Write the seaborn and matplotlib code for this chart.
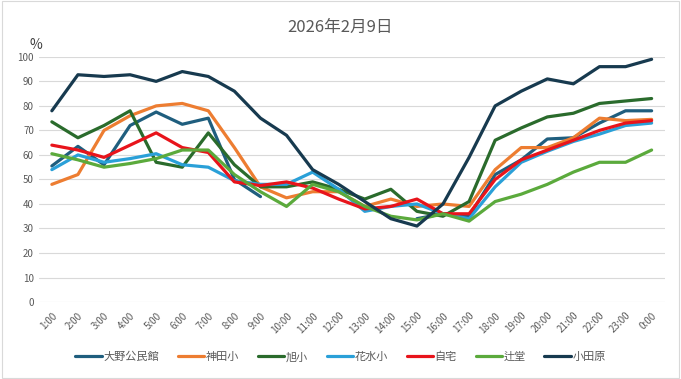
import matplotlib
matplotlib.use("Agg")
import matplotlib.pyplot as plt
import numpy as np
import pandas as pd
import seaborn as sns

hours = ["1:00", "2:00", "3:00", "4:00", "5:00", "6:00", "7:00", "8:00", "9:00", "10:00",
         "11:00", "12:00", "13:00", "14:00", "15:00", "16:00", "17:00", "18:00", "19:00",
         "20:00", "21:00", "22:00", "23:00", "0:00"]

nan = np.nan
ono = [55.5, 63.5, 56, 72, 77.5, 72.5, 75, 50, 43, nan, nan, nan, nan, nan,
       34, 36, 35, 52, 58, 66.5, 67, 73, 78, 78]
kanda = [48, 52, 70, 76, 80, 81, 78, 63, 47, 42.5, 45, 45, 39, 42,
         39, 40, 39, 54, 63, 63, 67, 75, 74, 74.5]
asahi = [73.5, 67, 72, 78, 57, 55, 69, 56, 47, 47, 49, 46, 42, 46,
         37, 35, 41, 66, 71, 75.5, 77, 81, 82, 83]
hanamizu = [54, 60, 57, 58.5, 60.5, 56, 55, 49.5, 48, 48, 53, 46, 37, 39,
            40, 36, 34, 47, 57, 61.5, 65.5, 68.5, 72, 73]
jitaku = [64, 62, 59, 64, 69, 63, 61, 49, 47.5, 49, 46.5, 42, 38, 39,
          42, 36, 36, 50, 58, 62, 66, 70, 73, 74]
tsujido = [60.5, 58, 55, 56.5, 58.5, 62, 62, 52, 45, 39, 48, 45, 39, 35,
           33.5, 36, 33, 41, 44, 48, 53, 57, 57, 62]
odawara = [78, 92.7, 92, 92.7, 90, 94, 92, 86, 75, 68, 54, 48, 41, 34,
           31, 40, 59, 80, 86, 91, 89, 96, 96, 99]

names = ["大野公民館", "神田小", "旭小", "花水小", "自宅", "辻堂", "小田原"]
series = [ono, kanda, asahi, hanamizu, jitaku, tsujido, odawara]
colors = ["#1F5E7E", "#ED7D31", "#2A6B2C", "#2AA0D8", "#E8141B", "#5BAA3C", "#173A4F"]

sns.set_style("white")
plt.rcParams["font.family"] = ["Noto Sans CJK JP", "DejaVu Sans"]

fig = plt.figure(figsize=(6.81, 3.79), dpi=100)
ax = fig.add_axes([0.057, 0.203, 0.919, 0.647])

for name, vals, col in zip(names, series, colors):
    df = pd.DataFrame({"x": np.arange(len(hours)), "y": vals})
    # split at missing values so the line breaks like in the original
    grp = df["y"].isna().cumsum()
    for _, seg in df.dropna().groupby(grp[df["y"].notna()]):
        sns.lineplot(data=seg, x="x", y="y", ax=ax, color=col, linewidth=2.3, legend=False)

ax.set_xlim(-0.5, len(hours) - 0.5)
ax.set_ylim(0, 100)
ax.set_yticks(range(0, 101, 10))
ax.set_xticks(range(len(hours)))
ax.set_xticklabels(hours, rotation=45, ha="right", rotation_mode="anchor")
ax.tick_params(axis="both", labelsize=7, colors="#595959", length=0)
ax.tick_params(axis="x", pad=6)
ax.grid(axis="y", color="#D9D9D9", linewidth=0.8)
ax.set_xlabel("")
ax.set_ylabel("")
for s in ax.spines.values():
    s.set_visible(False)

fig.text(0.053, 0.880, "%", fontsize=10, color="#404040", ha="center", va="center")
fig.suptitle("2026年2月9日", y=0.95, fontsize=12, color="#595959")

handles = [plt.Line2D([], [], color=c, linewidth=2.3) for c in colors]
fig.legend(handles, names, loc="center", bbox_to_anchor=(0.5, 0.058), ncol=7,
           frameon=False, fontsize=8, handlelength=2.4, handletextpad=0.1,
           columnspacing=1.7, labelcolor="#595959")

fig.patches.append(plt.Rectangle((0.003, 0.003), 0.994, 0.994, transform=fig.transFigure,
                                 fill=False, edgecolor="#D9D9D9", linewidth=0.8))

fig.savefig("out.png", dpi=100)
